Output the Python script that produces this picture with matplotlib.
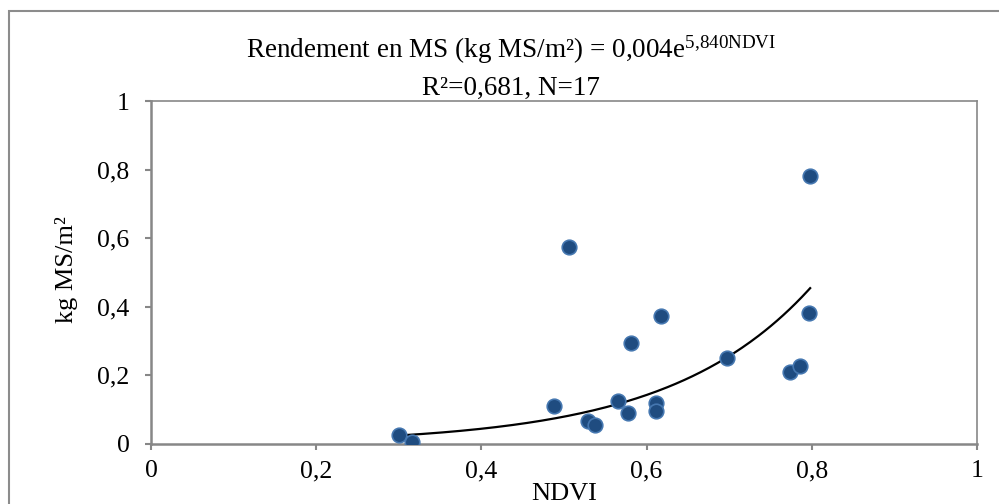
import numpy as np
import matplotlib.pyplot as plt
import matplotlib.patches as mpatches

plt.rcParams['font.family'] = ['Liberation Serif', 'DejaVu Serif']
plt.rcParams['mathtext.fontset'] = 'custom'
plt.rcParams['mathtext.rm'] = 'Liberation Serif'
plt.rcParams['mathtext.it'] = 'Liberation Serif:italic'

# NDVI vs rendement (kg MS/m2), 17 points
ndvi = [0.300, 0.316, 0.488, 0.506, 0.529, 0.537, 0.565, 0.577, 0.581,
        0.611, 0.611, 0.617, 0.697, 0.774, 0.786, 0.797, 0.798]
yield_ms = [0.025, 0.007, 0.112, 0.575, 0.066, 0.055, 0.126, 0.091, 0.295,
            0.120, 0.097, 0.373, 0.250, 0.211, 0.228, 0.382, 0.782]

# exponential trend y = a*exp(b*x)
a_coef = 0.0043
b_coef = 5.84

x_ticks = [0, 0.2, 0.4, 0.6, 0.8, 1]
y_ticks = [0, 0.2, 0.4, 0.6, 0.8, 1]
tick_labels = ['0', '0,2', '0,4', '0,6', '0,8', '1']

W, H = 999, 504
fig = plt.figure(figsize=(W / 100, H / 100), dpi=100)
ax = fig.add_axes([151 / W, (H - 444) / H, (977 - 151) / W, (444 - 101) / H])

grey = '#878787'
ax.scatter(ndvi, yield_ms, s=110, color='#1F4C80', edgecolors='#4577B0',
           linewidths=1.2, zorder=3)

xs = np.linspace(min(ndvi), max(ndvi), 200)
ax.plot(xs, a_coef * np.exp(b_coef * xs), color='black', lw=1.6, zorder=2)

ax.set_xlim(0, 1)
ax.set_ylim(0, 1)
ax.set_xticks(x_ticks)
ax.set_xticklabels(tick_labels)
ax.set_yticks(y_ticks)
ax.set_yticklabels(tick_labels)
ax.tick_params(direction='out', length=4.5, width=1.5, color=grey,
               labelsize=18.5)
ax.tick_params(axis='y', pad=11)
ax.tick_params(axis='x', pad=7)

for side in ['left', 'bottom']:
    ax.spines[side].set_color(grey)
    ax.spines[side].set_linewidth(1.8)
for side in ['top', 'right']:
    ax.spines[side].set_color(grey)
    ax.spines[side].set_linewidth(1.2)

fig.text(66 / W, 1 - 270 / H, 'kg MS/m²', rotation=90, ha='center',
         va='center', fontsize=19)
fig.text(564 / W, 1 - 500 / H, 'NDVI', ha='center', va='baseline',
         fontsize=19)

fig.text(511 / W, 1 - 58 / H,
         r'Rendement en MS (kg MS/m²) = 0,004e$^{5{,}840\mathrm{NDVI}}$',
         ha='center', va='baseline', fontsize=19.5)
fig.text(511 / W, 1 - 95 / H, 'R²=0,681, N=17',
         ha='center', va='baseline', fontsize=19.5)

# outer chart frame (runs off the right and bottom edges)
frame = mpatches.Rectangle((9 / W, -0.2), 1.2, 1.2 - 11 / H,
                           transform=fig.transFigure, fill=False,
                           edgecolor='#8c8c8c', lw=1.5)
fig.patches.append(frame)

fig.savefig('out.png', dpi=100)
